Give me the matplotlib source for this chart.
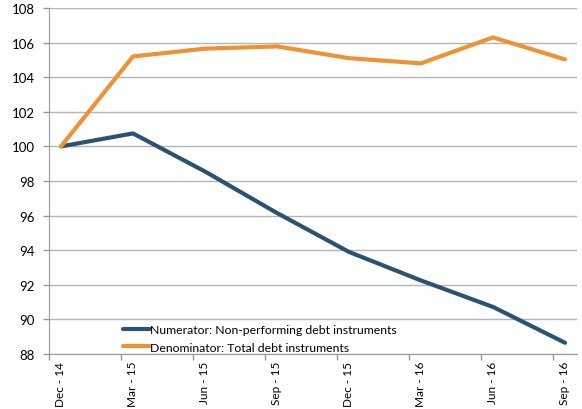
import numpy as np
import matplotlib
matplotlib.use('Agg')
import matplotlib.pyplot as plt
from matplotlib.ticker import FixedLocator

quarters = ['Dec - 14', 'Mar - 15', 'Jun - 15', 'Sep - 15',
            'Dec - 15', 'Mar - 16', 'Jun - 16', 'Sep - 16']
numerator = [100.0, 100.75, 98.55, 96.15, 93.9, 92.25, 90.72, 88.65]
denominator = [100.0, 105.2, 105.65, 105.78, 105.1, 104.8, 106.3, 105.03]

blue = '#2b5371'
orange = '#ee9236'
grid_col = '#b4b4b4'

plt.rcParams['font.family'] = ['Lato', 'DejaVu Sans']

fig = plt.figure(figsize=(5.82, 4.10), dpi=100)
ax = fig.add_axes([49 / 582, 1 - 355 / 410, 528 / 582, 346 / 410])

# months from Dec-14, one point per quarter, axis in monthly slots
x = np.arange(len(quarters)) * 3

ax.plot(x, numerator, color=blue, lw=3, solid_capstyle='round',
        label='Numerator: Non-performing debt instruments', zorder=3)
ax.plot(x, denominator, color=orange, lw=3, solid_capstyle='round',
        label='Denominator: Total debt instruments', zorder=3)

ax.set_xlim(-0.5, x[-1] + 0.5)
ax.set_ylim(88, 108)
ax.set_yticks(np.arange(88, 109, 2))
ax.yaxis.grid(True, color=grid_col, lw=1)
ax.set_axisbelow(True)

ax.set_xticks(x)
ax.set_xticklabels(quarters, rotation=90, fontsize=8.5)
ax.tick_params(axis='x', which='major', length=0, pad=5)
ax.xaxis.set_minor_locator(FixedLocator(x - 0.5))
ax.tick_params(axis='x', which='minor', length=4, color='#999999', width=1)
ax.tick_params(axis='y', length=4, color='#999999', width=1, labelsize=9.5, pad=6)

for s in ['top', 'right']:
    ax.spines[s].set_visible(False)
for s in ['left', 'bottom']:
    ax.spines[s].set_color('#999999')

ax.legend(loc='lower left', bbox_to_anchor=(0.131, -0.01), frameon=False,
          fontsize=8.8, handlelength=2.2, handletextpad=0.0,
          labelspacing=0.55, borderaxespad=0)

fig.savefig('out.png', dpi=100)
